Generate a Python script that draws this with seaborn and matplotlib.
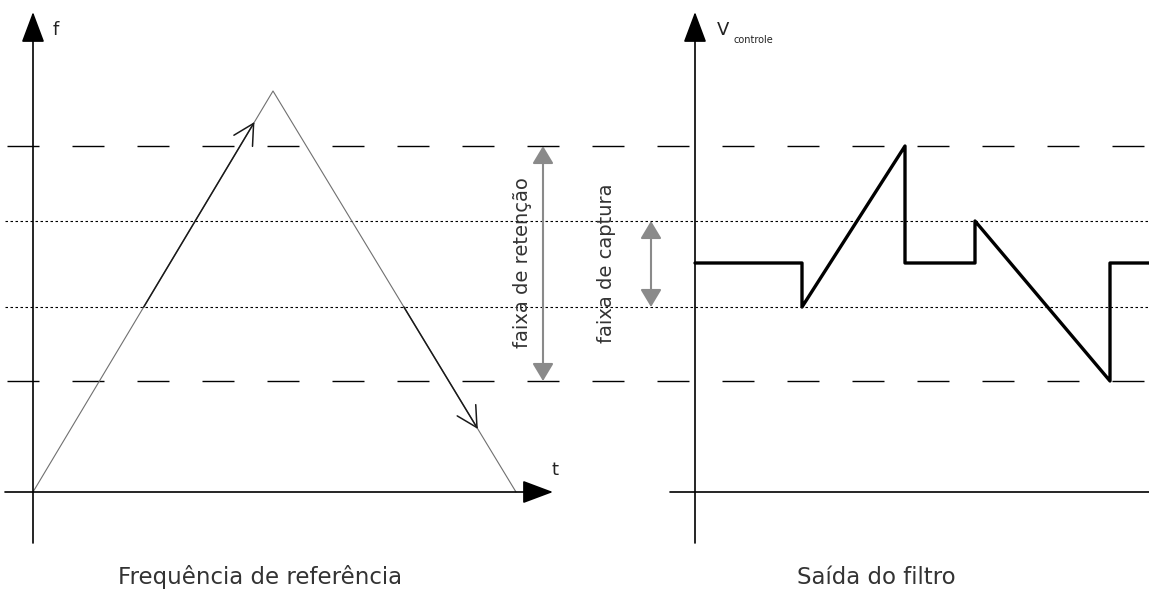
import matplotlib
import numpy as np
import pandas as pd

matplotlib.use("Agg")
import matplotlib.pyplot as plt  # noqa: E402
import seaborn as sns  # noqa: E402

# sinal de referência (triângulo): tempo x frequência
ref_t = [0, 240, 483]
ref_f = [0, 401, 0]

# saída do filtro (tensão de controle)
filt_t = [0, 107, 107, 210, 210, 280, 280, 415, 415, 454]
filt_v = [229, 229, 185, 346, 229, 229, 271, 111, 229, 229]

faixa_retencao = [111, 346]
faixa_captura = [185, 271]

# trechos destacados (setas) na subida e na descida, em valores de f
seta_subida = [185, 370]
seta_descida = [185, 63]

titulos = ["Frequência de referência", "Saída do filtro"]
rotulos_faixa = ["faixa de retenção", "faixa de captura"]

OFFSET = 662  # deslocamento horizontal do painel da direita

sns.set_style("white")
plt.rcParams["font.family"] = ["DejaVu Sans"]
plt.rcParams["lines.scale_dashes"] = False

fig = plt.figure(figsize=(11.49, 5.90), dpi=100)
ax = fig.add_axes([0, 0, 1, 1])
ax.set_xlim(-33, 1116)
ax.set_ylim(-98, 492)
ax.axis("off")

# linhas horizontais das faixas (atravessam os dois painéis)
ax.hlines(faixa_retencao, -26, 1116, colors="black", lw=1.0,
          linestyles=[(0, (23.04, 23.76))], zorder=1)
ax.hlines(faixa_captura, -28, 1116, colors="black", lw=0.8,
          linestyles=[(0, (1.8, 1.8))], zorder=1)

# eixos desenhados à mão (com setas)
head = "-|>,head_length=0.8,head_width=0.3"
ax.annotate("", xy=(0, 480), xytext=(0, -51),
            arrowprops=dict(arrowstyle=head, mutation_scale=24, lw=1.2,
                            color="black", shrinkA=0, shrinkB=0))
ax.annotate("", xy=(520, 0), xytext=(-28, 0),
            arrowprops=dict(arrowstyle=head, mutation_scale=24, lw=1.2,
                            color="black", shrinkA=0, shrinkB=0))
ax.annotate("", xy=(OFFSET, 480), xytext=(OFFSET, -51),
            arrowprops=dict(arrowstyle=head, mutation_scale=24, lw=1.2,
                            color="black", shrinkA=0, shrinkB=0))
ax.plot([OFFSET - 25, 1116], [0, 0], color="black", lw=1.2)

# triângulo da frequência de referência
df_ref = pd.DataFrame({"t": ref_t, "f": ref_f})
sns.lineplot(data=df_ref, x="t", y="f", ax=ax, color="#707070", lw=0.8,
             sort=False, estimator=None, zorder=2)

# trechos destacados com ponta aberta
t_pico, f_pico, t_fim = ref_t[1], ref_f[1], ref_t[2]
sub_t = [f / f_pico * t_pico for f in seta_subida]
desc_t = [t_fim - f / f_pico * (t_fim - t_pico) for f in seta_descida]
open_head = "->,head_length=0.73,head_width=0.39"
for ts, fs in [(sub_t, seta_subida), (desc_t, seta_descida)]:
    ax.annotate("", xy=(ts[1], fs[1]), xytext=(ts[0], fs[0]),
                arrowprops=dict(arrowstyle=open_head, mutation_scale=20,
                                lw=1.1, color="#1a1a1a", shrinkA=0, shrinkB=0),
                zorder=3)

# saída do filtro
df_filt = pd.DataFrame({"t": np.array(filt_t) + OFFSET, "v": filt_v})
sns.lineplot(data=df_filt, x="t", y="v", ax=ax, color="black", lw=2.4,
             sort=False, estimator=None, zorder=4)

# setas cinzas das faixas
gray_head = "<|-|>,head_length=0.6,head_width=0.36"
for xa, (lo, hi) in [(510, faixa_retencao), (618, faixa_captura)]:
    ax.annotate("", xy=(xa, hi), xytext=(xa, lo),
                arrowprops=dict(arrowstyle=gray_head, mutation_scale=18,
                                lw=1.5, color="#8a8a8a", shrinkA=0, shrinkB=0))
ax.text(490, 229, rotulos_faixa[0], rotation=90, ha="center", va="center",
        fontsize=14, color="#333333")
ax.text(574, 229, rotulos_faixa[1], rotation=90, ha="center", va="center",
        fontsize=14, color="#333333")

# rótulos dos eixos
ax.text(20, 462, "f", ha="left", va="center", fontsize=13, color="#222222")
ax.text(522, 22, "t", ha="center", va="center", fontsize=13, color="#222222")
ax.text(OFFSET + 22, 462, "V", ha="left", va="center", fontsize=13,
        color="#222222")
ax.text(OFFSET + 38, 452, "controle", ha="left", va="center", fontsize=7,
        color="#222222")

# títulos dos painéis
ax.text(227, -85, titulos[0], ha="center", va="center", fontsize=16.5,
        color="#333333")
ax.text(OFFSET + 181, -85, titulos[1], ha="center", va="center",
        fontsize=16.5, color="#333333")

fig.savefig("out.png", dpi=100)
